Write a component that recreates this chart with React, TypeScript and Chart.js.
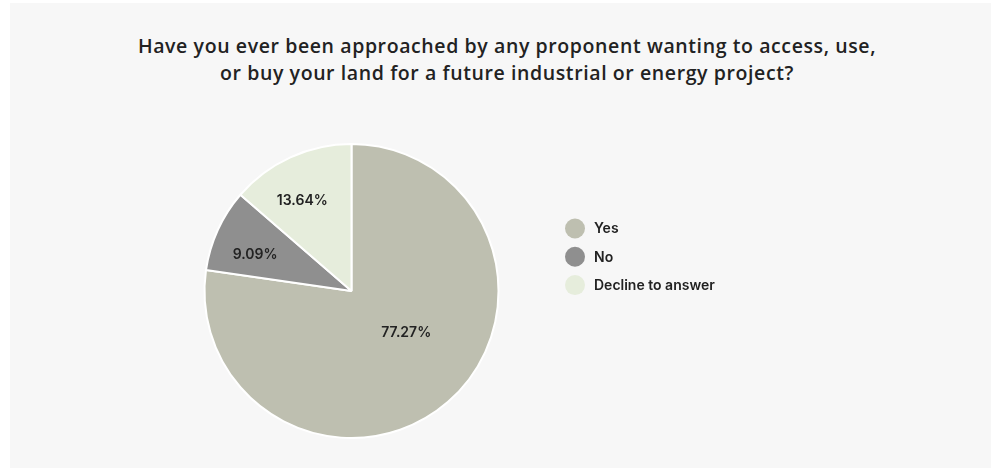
import React, { useEffect, useRef } from "react";
import { Chart, registerables } from "chart.js";

Chart.register(...registerables);

// Survey answers
const answerLabels = ["Yes", "No", "Decline to answer"];
const answerShares = [77.27, 9.09, 13.64];
const sliceColors = ["#bebfb0", "#8f8f8f", "#e6eddc"];

const TITLE_LINES = [
  "Have you ever been approached by any proponent wanting to access, use,",
  "or buy your land for a future industrial or energy project?",
];

const LABEL_FONT = '600 14px Inter, "Noto Sans", sans-serif';
const TEXT_COLOR = "#222222";

// Percentage text placed inside each slice, a little before its middle angle
const sliceLabelPlugin = {
  id: "sliceLabels",
  afterDatasetsDraw(chart: any) {
    const { ctx } = chart;
    const meta = chart.getDatasetMeta(0);
    const data = chart.data.datasets[0].data as number[];
    ctx.save();
    ctx.font = LABEL_FONT;
    ctx.fillStyle = TEXT_COLOR;
    ctx.textAlign = "center";
    ctx.textBaseline = "middle";
    meta.data.forEach((arc: any, i: number) => {
      const { x, y, startAngle, endAngle, outerRadius } = arc.getProps(
        ["x", "y", "startAngle", "endAngle", "outerRadius"],
        true
      );
      const span = endAngle - startAngle;
      const big = span > Math.PI;
      const mid = (startAngle + endAngle) / 2 - (big ? 0.2 : 0.07);
      const dist = outerRadius * (big ? 0.47 : 0.7);
      ctx.fillText(
        data[i].toFixed(2) + "%",
        x + Math.cos(mid) * dist,
        y + Math.sin(mid) * dist
      );
    });
    ctx.restore();
  },
};

// Legend on the right of the pie: filled circles with their answer text
const sideLegendPlugin = {
  id: "sideLegend",
  afterDraw(chart: any) {
    const { ctx, chartArea } = chart;
    const labels = chart.data.labels as string[];
    const colors = chart.data.datasets[0].backgroundColor as string[];
    const cx = (chartArea.left + chartArea.right) / 2;
    const cy = (chartArea.top + chartArea.bottom) / 2;
    const markerX = cx + 223.5;
    const firstY = cy - 62.5;
    const step = 28.3;
    ctx.save();
    ctx.font = LABEL_FONT;
    ctx.textAlign = "left";
    ctx.textBaseline = "middle";
    labels.forEach((label, i) => {
      const yy = firstY + i * step;
      ctx.beginPath();
      ctx.arc(markerX, yy, 10, 0, Math.PI * 2);
      ctx.fillStyle = colors[i];
      ctx.fill();
      ctx.fillStyle = TEXT_COLOR;
      ctx.fillText(label, markerX + 19, yy + 0.5);
    });
    ctx.restore();
  },
};

export default function App() {
  const canvasRef = useRef<HTMLCanvasElement | null>(null);

  useEffect(() => {
    if (!canvasRef.current) return;
    const chart = new Chart(canvasRef.current, {
      type: "pie",
      data: {
        labels: answerLabels,
        datasets: [
          {
            data: answerShares,
            backgroundColor: sliceColors,
            borderColor: "#ffffff",
            borderWidth: 2,
          },
        ],
      },
      options: {
        responsive: false,
        animation: false,
        layout: {
          padding: { left: 0, right: 298, top: 140, bottom: 29 },
        },
        plugins: {
          legend: { display: false },
          tooltip: { enabled: false },
          title: { display: false },
        },
      },
      plugins: [sliceLabelPlugin, sideLegendPlugin],
    });
    return () => chart.destroy();
  }, []);

  return (
    <div
      style={{
        position: "fixed",
        left: 10,
        top: 3,
        width: 981,
        height: 465,
        background: "#f7f7f7",
      }}
    >
      <div
        style={{
          position: "absolute",
          left: 0,
          top: 29,
          width: 994,
          textAlign: "center",
          fontFamily: '"Open Sans", "Noto Sans", sans-serif',
          fontWeight: 600,
          fontSize: 19.5,
          letterSpacing: 0.6,
          lineHeight: "27px",
          color: TEXT_COLOR,
        }}
      >
        {TITLE_LINES.map((line) => (
          <div key={line}>{line}</div>
        ))}
      </div>
      <canvas
        ref={canvasRef}
        width={981}
        height={465}
        style={{ position: "absolute", left: 0, top: 0 }}
      />
    </div>
  );
}
